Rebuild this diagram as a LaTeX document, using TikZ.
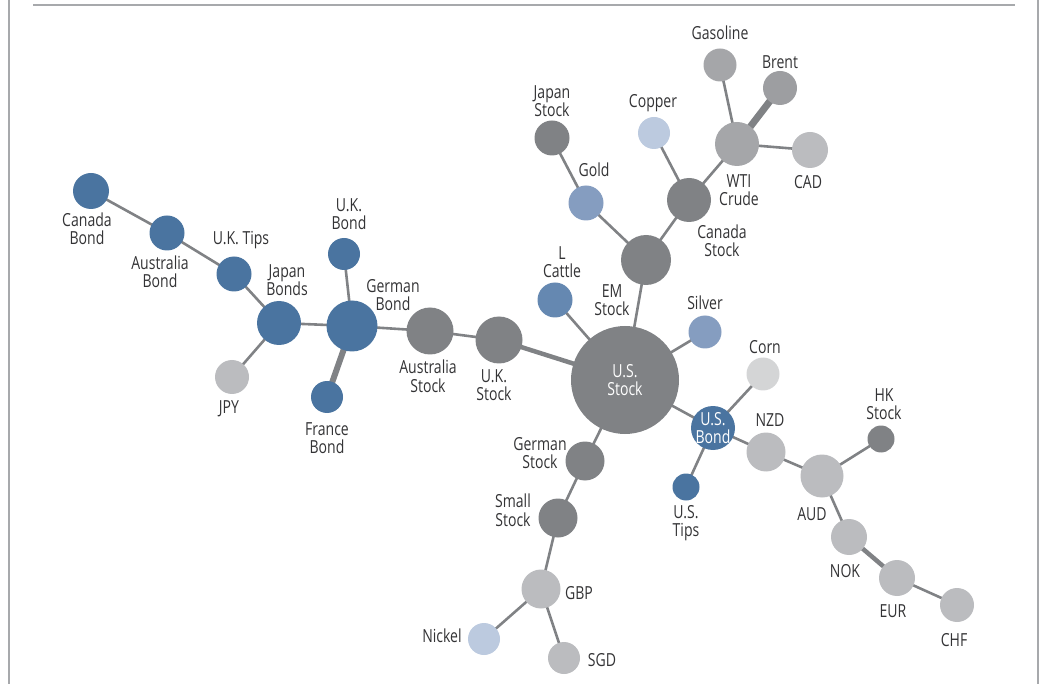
\documentclass[tikz,border=0pt]{standalone}
\usepackage{fontspec}
\setmainfont[FakeStretch=0.78]{Open Sans}
\definecolor{edgec}{HTML}{808285}
\definecolor{dkg}{HTML}{808285}
\definecolor{blu}{HTML}{4A74A0}
\definecolor{mblu}{HTML}{6588B1}
\definecolor{lblu}{HTML}{859DC0}
\definecolor{vlblu}{HTML}{BCCADF}
\definecolor{mgr}{HTML}{A5A6A9}
\definecolor{lgr}{HTML}{BBBCBF}
\definecolor{vlgr}{HTML}{D4D5D6}
\definecolor{txt}{HTML}{333335}
\definecolor{frame}{HTML}{A7A9AC}
\pgfdeclarelayer{bg}
\pgfsetlayers{bg,main}
\begin{document}
\begin{tikzpicture}[x=1pt,y=-1pt,
  nd/.style={circle,inner sep=0pt,draw=none},
  lbl/.style={align=center,inner sep=0pt,text=txt,font=\fontsize{18}{18.5}\selectfont},
  inl/.style={align=center,inner sep=0pt,text=white,font=\fontsize{18}{18.5}\selectfont},
  ln/.style={draw=edgec,line width=2.6pt},
  thk/.style={draw=edgec,line width=6pt},
  mthk/.style={draw=edgec,line width=4.5pt}]
\useasboundingbox (0,0) rectangle (1044,684);
% frame
\draw[frame,line width=1.2pt] (9,0) -- (9,684);
\draw[frame,line width=1.2pt] (1038,0) -- (1038,684);
\draw[frame,line width=1.2pt] (33,5) -- (1015,5);
% nodes
\node[nd,fill=blu,minimum size=36pt] (canb) at (91,191) {};
\node[nd,fill=blu,minimum size=35pt] (ausb) at (167,233) {};
\node[nd,fill=blu,minimum size=35pt] (ukt) at (234,274) {};
\node[nd,fill=blu,minimum size=44pt] (jpb) at (279,323) {};
\node[nd,fill=lgr,minimum size=34pt] (jpy) at (232,377) {};
\node[nd,fill=blu,minimum size=32pt] (ukb) at (344,254) {};
\node[nd,fill=blu,minimum size=51pt] (geb) at (352,326) {};
\node[nd,fill=blu,minimum size=32pt] (frb) at (327,397) {};
\node[nd,fill=dkg,minimum size=47pt] (auss) at (430,331) {};
\node[nd,fill=dkg,minimum size=47pt] (uks) at (499,340) {};
\node[nd,fill=dkg,minimum size=108pt] (uss) at (625,380) {};
\node[nd,fill=mblu,minimum size=35pt] (lcat) at (555,300) {};
\node[nd,fill=dkg,minimum size=50pt] (ems) at (646,260) {};
\node[nd,fill=lblu,minimum size=35pt] (gold) at (586,203) {};
\node[nd,fill=dkg,minimum size=35pt] (jps) at (552,138) {};
\node[nd,fill=dkg,minimum size=44pt] (cans) at (689,200) {};
\node[nd,fill=vlblu,minimum size=32pt] (copp) at (654,133) {};
\node[nd,fill=mgr,minimum size=44pt] (wti) at (737,144) {};
\node[nd,fill=mgr,minimum size=33pt] (gas) at (720,65) {};
\node[nd,fill=mgr!95!black,minimum size=34pt] (brent) at (780,88) {};
\node[nd,fill=lgr,minimum size=36pt] (cad) at (810,150) {};
\node[nd,fill=lblu,minimum size=33pt] (silv) at (705,332) {};
\node[nd,fill=vlgr,minimum size=33pt] (corn) at (763,374) {};
\node[nd,fill=blu,minimum size=44pt] (usb) at (713,428) {};
\node[nd,fill=blu,minimum size=27pt] (ust) at (686,487) {};
\node[nd,fill=lgr,minimum size=39pt] (nzd) at (766,452) {};
\node[nd,fill=dkg,minimum size=27pt] (hks) at (881,439) {};
\node[nd,fill=lgr,minimum size=43pt] (aud) at (822,476) {};
\node[nd,fill=lgr,minimum size=36pt] (nok) at (849,537) {};
\node[nd,fill=lgr,minimum size=36pt] (eur) at (897,578) {};
\node[nd,fill=lgr,minimum size=34pt] (chf) at (957,605) {};
\node[nd,fill=dkg,minimum size=39pt] (ges) at (585,461) {};
\node[nd,fill=dkg,minimum size=39pt] (sms) at (558,518) {};
\node[nd,fill=lgr,minimum size=39pt] (gbp) at (541,589) {};
\node[nd,fill=vlblu,minimum size=32pt] (nick) at (484,639) {};
\node[nd,fill=lgr,minimum size=32pt] (sgd) at (564,658) {};
% edges
\begin{pgfonlayer}{bg}
\draw[ln] (canb.center) -- (ausb.center);
\draw[ln] (ausb.center) -- (ukt.center);
\draw[ln] (ukt.center) -- (jpb.center);
\draw[ln] (jpb.center) -- (jpy.center);
\draw[ln] (jpb.center) -- (geb.center);
\draw[ln] (geb.center) -- (ukb.center);
\draw[thk] (geb.center) -- (frb.center);
\draw[ln] (geb.center) -- (auss.center);
\draw[ln] (auss.center) -- (uks.center);
\draw[mthk] (uks.center) -- (uss.center);
\draw[ln] (uss.center) -- (lcat.center);
\draw[ln] (uss.center) -- (ems.center);
\draw[ln] (ems.center) -- (gold.center);
\draw[ln] (gold.center) -- (jps.center);
\draw[ln] (ems.center) -- (cans.center);
\draw[ln] (cans.center) -- (copp.center);
\draw[ln] (cans.center) -- (wti.center);
\draw[ln] (wti.center) -- (gas.center);
\draw[draw=edgec,line width=7pt] (wti.center) -- (brent.center);
\draw[ln] (wti.center) -- (cad.center);
\draw[ln] (uss.center) -- (silv.center);
\draw[ln] (uss.center) -- (usb.center);
\draw[ln] (usb.center) -- (corn.center);
\draw[ln] (usb.center) -- (ust.center);
\draw[ln] (usb.center) -- (nzd.center);
\draw[ln] (nzd.center) -- (aud.center);
\draw[ln] (aud.center) -- (hks.center);
\draw[ln] (aud.center) -- (nok.center);
\draw[mthk] (nok.center) -- (eur.center);
\draw[ln] (eur.center) -- (chf.center);
\draw[ln] (uss.center) -- (ges.center);
\draw[ln] (ges.center) -- (sms.center);
\draw[ln] (sms.center) -- (gbp.center);
\draw[ln] (gbp.center) -- (nick.center);
\draw[ln] (gbp.center) -- (sgd.center);
\end{pgfonlayer}
% labels
\node[lbl] (canbL) at (87,229) {Canada\\Bond};
\node[lbl] (ausbL) at (160,272) {Australia\\Bond};
\node[lbl] (uktL) at (241,240) {U.K. Tips};
\node[lbl] (jpbL) at (287,280) {Japan\\Bonds};
\node[lbl] (jpyL) at (229,409) {JPY};
\node[lbl] (ukbL) at (349,214) {U.K.\\Bond};
\node[lbl] (gebL) at (393,295) {German\\Bond};
\node[lbl] (frbL) at (327,438) {France\\Bond};
\node[lbl] (aussL) at (428,376) {Australia\\Stock};
\node[lbl] (uksL) at (494,385) {U.K.\\Stock};
\node[inl] (ussL) at (625,380) {U.S.\\Stock};
\node[lbl] (lcatL) at (562,262) {L\\Cattle};
\node[lbl] (emsL) at (612,300) {EM\\Stock};
\node[lbl] (goldL) at (594,170) {Gold};
\node[lbl] (jpsL) at (552,101) {Japan\\Stock};
\node[lbl] (cansL) at (722,241) {Canada\\Stock};
\node[lbl] (coppL) at (653,103) {Copper};
\node[lbl] (wtiL) at (739,190) {WTI\\Crude};
\node[lbl] (gasL) at (720,33) {Gasoline};
\node[lbl] (brentL) at (780,62) {Brent};
\node[lbl] (cadL) at (808,182) {CAD};
\node[lbl] (silvL) at (705,303) {Silver};
\node[lbl] (cornL) at (765,347) {Corn};
\node[inl] (usbL) at (713,428) {U.S.\\Bond};
\node[lbl] (ustL) at (686,523) {U.S.\\Tips};
\node[lbl] (nzdL) at (770,420) {NZD};
\node[lbl] (hksL) at (884,404) {HK\\Stock};
\node[lbl] (audL) at (812,514) {AUD};
\node[lbl] (nokL) at (845,571) {NOK};
\node[lbl] (eurL) at (893,611) {EUR};
\node[lbl] (chfL) at (954,640) {CHF};
\node[lbl] (gesL) at (540,453) {German\\Stock};
\node[lbl] (smsL) at (513,510) {Small\\Stock};
\node[lbl] (gbpL) at (579,593) {GBP};
\node[lbl] (nickL) at (442,636) {Nickel};
\node[lbl] (sgdL) at (602,660) {SGD};
\end{tikzpicture}
\end{document}
